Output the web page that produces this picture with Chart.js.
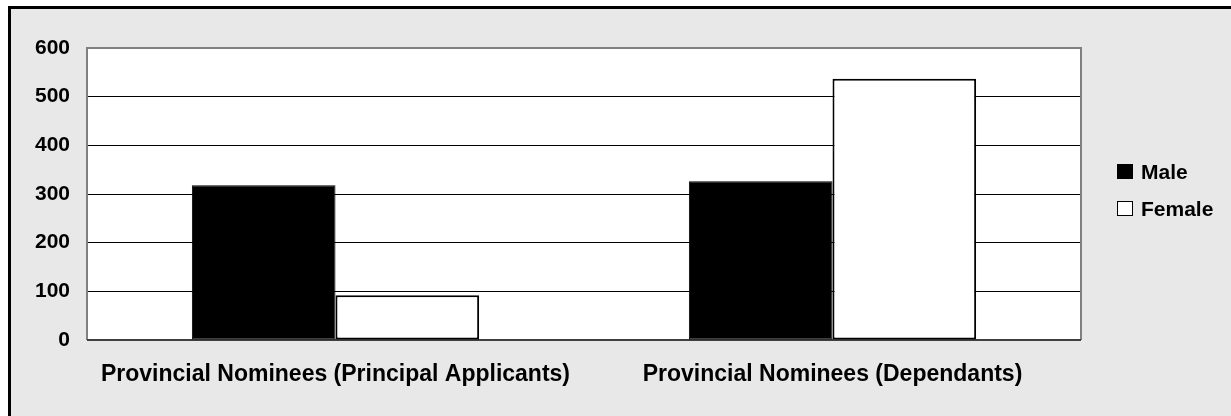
<!DOCTYPE html>
<html>
<head>
<meta charset="utf-8">
<script src="https://cdn.jsdelivr.net/npm/chart.js@4/dist/chart.umd.min.js"></script>
<style>
  html, body { margin: 0; padding: 0; background: #fff; }
  body { width: 1231px; height: 416px; position: relative; overflow: hidden; }
  .frame {
    position: absolute; left: 8px; top: 6px; right: -10px; bottom: -10px;
    background: #e8e8e8; border-left: 3px solid #000; border-top: 3px solid #000;
  }
  #chartCanvas { position: absolute; left: 0; top: 0; }
  .legend {
    position: absolute; left: 1117px; top: 153px;
    font-family: "Liberation Sans", Arial, sans-serif; font-weight: bold; font-size: 21px;
  }
  .legend .item { display: flex; align-items: center; height: 37px; }
  .legend .box { width: 16px; height: 15px; margin-right: 8px; box-sizing: border-box; border: 1.5px solid #000; }
</style>
</head>
<body>
<div class="frame"></div>
<canvas id="chartCanvas" width="1231" height="416"></canvas>
<div class="legend" id="legend"></div>
<script>
const categories = ['Provincial Nominees (Principal Applicants)', 'Provincial Nominees (Dependants)'];
const maleValues = [318, 326];
const femaleValues = [92, 537];
const yTicks = [0, 100, 200, 300, 400, 500, 600];

const ctx = document.getElementById('chartCanvas').getContext('2d');

// white plot area with grey frame, like the old spreadsheet chart
const plotFrame = {
    id: 'plotFrame',
    beforeDraw(chart) {
        const a = chart.chartArea;
        chart.ctx.save();
        chart.ctx.fillStyle = '#fff';
        chart.ctx.fillRect(a.left, a.top, a.right - a.left, a.bottom - a.top);
        chart.ctx.restore();
    },
    beforeDatasetsDraw(chart) {
        const a = chart.chartArea;
        const c = chart.ctx;
        c.save();
        c.strokeStyle = '#808080';
        c.lineWidth = 2;
        c.beginPath();
        c.moveTo(a.left, a.bottom);
        c.lineTo(a.left, a.top);
        c.lineTo(a.right, a.top);
        c.lineTo(a.right, a.bottom);
        c.stroke();
        c.strokeStyle = '#404040';
        c.beginPath();
        c.moveTo(a.left, a.bottom);
        c.lineTo(a.right, a.bottom);
        c.stroke();
        c.restore();
    }
};

const chart = new Chart(ctx, {
    type: 'bar',
    data: {
        labels: categories,
        datasets: [
            {
                label: 'Male',
                data: maleValues,
                backgroundColor: '#000',
                borderColor: '#000',
                borderWidth: 1,
                borderSkipped: false
            },
            {
                label: 'Female',
                data: femaleValues,
                backgroundColor: '#fff',
                borderColor: '#000',
                borderWidth: 2,
                borderSkipped: false
            }
        ]
    },
    options: {
        responsive: false,
        animation: false,
        layout: { padding: { left: 0, right: 150, top: 48, bottom: 0 } },
        datasets: { bar: { categoryPercentage: 0.578, barPercentage: 1 } },
        scales: {
            x: {
                grid: { display: false },
                border: { display: false },
                ticks: {
                    color: '#000',
                    padding: 13,
                    maxRotation: 0,
                    font: { family: '"Liberation Sans", Arial, sans-serif', weight: 'bold', size: 23 }
                },
                afterFit(s) { s.height = 76; }
            },
            y: {
                min: 0,
                max: 600,
                afterBuildTicks(s) { s.ticks = yTicks.map(v => ({ value: v })); },
                grid: {
                    color: '#000',
                    lineWidth: 1,
                    drawTicks: false
                },
                border: { display: false },
                ticks: {
                    color: '#000',
                    padding: 17,
                    font: { family: '"Liberation Sans", Arial, sans-serif', weight: 'bold', size: 21 }
                },
                afterFit(s) { s.width = 87; }
            }
        },
        plugins: {
            legend: { display: false },
            tooltip: { enabled: false }
        }
    },
    plugins: [plotFrame]
});

// legend built from the datasets
document.getElementById('legend').innerHTML = chart.data.datasets.map(ds =>
    `<div class="item"><span class="box" style="background:${ds.backgroundColor}"></span>${ds.label}</div>`
).join('');
</script>
</body>
</html>
